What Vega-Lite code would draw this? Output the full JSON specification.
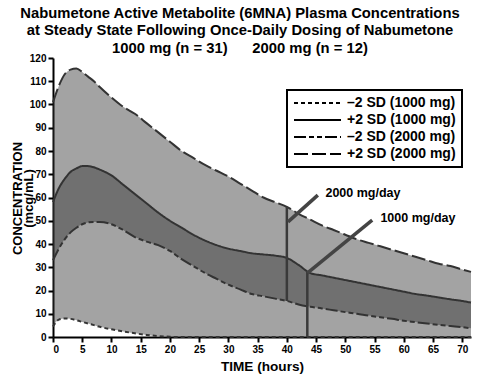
{
  "$schema": "https://vega.github.io/schema/vega-lite/v6.json",
  "width": 418,
  "height": 279,
  "autosize": {"type": "none"},
  "padding": {"left": 53, "top": 58, "right": 9, "bottom": 38},
  "title": {
    "text": [
      "Nabumetone Active Metabolite (6MNA) Plasma Concentrations",
      "at Steady State Following Once-Daily Dosing of Nabumetone",
      "1000 mg (n = 31)\u00a0\u00a0\u00a0\u00a0\u00a0\u00a02000 mg (n = 12)"
    ],
    "font": "Liberation Sans",
    "fontSize": 14.8,
    "fontWeight": "bold",
    "lineHeight": 17.8,
    "anchor": "middle",
    "dx": -22,
    "offset": -3,
    "color": "black"
  },
  "config": {
    "view": {"stroke": null},
    "axis": {
      "domainColor": "black",
      "domainWidth": 2,
      "tickColor": "black",
      "tickWidth": 2,
      "tickSize": 5,
      "labelFont": "Liberation Sans",
      "labelFontSize": 10,
      "labelFontWeight": "bold",
      "labelColor": "black",
      "labelPadding": 2,
      "labelOverlap": false,
      "titleFont": "Liberation Sans",
      "titleFontWeight": "bold",
      "titleColor": "black",
      "grid": false
    },
    "axisX": {"tickCount": 15, "labelOverlap": false},
    "axisY": {"tickCount": 13, "labelOverlap": false},
    "legend": {"strokeWidth": 2}
  },
  "datasets": {
    "curves": [
      {"t": 0, "hi2000": 101, "hi1000": 58, "lo2000": 33, "lo1000": 4.5},
      {"t": 1, "hi2000": 108, "hi1000": 64, "lo2000": 38, "lo1000": 7.5},
      {"t": 2, "hi2000": 113, "hi1000": 68, "lo2000": 42, "lo1000": 8},
      {"t": 3, "hi2000": 115, "hi1000": 71, "lo2000": 45, "lo1000": 7.8},
      {"t": 4, "hi2000": 115.5, "hi1000": 72.5, "lo2000": 47, "lo1000": 7.2},
      {"t": 5, "hi2000": 114, "hi1000": 73.5, "lo2000": 48.5, "lo1000": 6.5},
      {"t": 6, "hi2000": 112, "hi1000": 73.5, "lo2000": 49.3, "lo1000": 5.8},
      {"t": 7, "hi2000": 110, "hi1000": 73, "lo2000": 49.5, "lo1000": 5.1},
      {"t": 8, "hi2000": 107.5, "hi1000": 72, "lo2000": 49.5, "lo1000": 4.4},
      {"t": 10, "hi2000": 103, "hi1000": 69.5, "lo2000": 48.5, "lo1000": 3.3},
      {"t": 12, "hi2000": 99, "hi1000": 65.5, "lo2000": 46, "lo1000": 2.4},
      {"t": 14, "hi2000": 96, "hi1000": 61.5, "lo2000": 43, "lo1000": 1.6},
      {"t": 16, "hi2000": 92, "hi1000": 57.5, "lo2000": 41, "lo1000": 0.9},
      {"t": 18, "hi2000": 88, "hi1000": 53.5, "lo2000": 39.5, "lo1000": 0.4},
      {"t": 20, "hi2000": 84, "hi1000": 50, "lo2000": 37, "lo1000": 0.1},
      {"t": 22, "hi2000": 80, "hi1000": 47, "lo2000": 33.5, "lo1000": 0},
      {"t": 24, "hi2000": 77, "hi1000": 44, "lo2000": 30.5, "lo1000": 0},
      {"t": 26, "hi2000": 74, "hi1000": 41.5, "lo2000": 27.5, "lo1000": 0},
      {"t": 28, "hi2000": 71.5, "hi1000": 39.5, "lo2000": 25, "lo1000": 0},
      {"t": 30, "hi2000": 69, "hi1000": 38, "lo2000": 22.5, "lo1000": 0},
      {"t": 32, "hi2000": 66, "hi1000": 37, "lo2000": 20.5, "lo1000": 0},
      {"t": 34, "hi2000": 63, "hi1000": 36, "lo2000": 18.5, "lo1000": 0},
      {"t": 36, "hi2000": 60, "hi1000": 35.5, "lo2000": 17.5, "lo1000": 0},
      {"t": 38, "hi2000": 58, "hi1000": 35, "lo2000": 16.5, "lo1000": 0},
      {"t": 40, "hi2000": 56, "hi1000": 34, "lo2000": 15.5, "lo1000": 0},
      {"t": 42, "hi2000": 53, "hi1000": 31, "lo2000": 14, "lo1000": 0},
      {"t": 44, "hi2000": 50.5, "hi1000": 27.5, "lo2000": 13, "lo1000": 0},
      {"t": 46, "hi2000": 48, "hi1000": 26.5, "lo2000": 12.3, "lo1000": 0},
      {"t": 48, "hi2000": 46, "hi1000": 25.5, "lo2000": 11.5, "lo1000": 0},
      {"t": 50, "hi2000": 44, "hi1000": 24.5, "lo2000": 10.7, "lo1000": 0},
      {"t": 52, "hi2000": 42, "hi1000": 23.5, "lo2000": 10, "lo1000": 0},
      {"t": 54, "hi2000": 40.5, "hi1000": 22.5, "lo2000": 9.2, "lo1000": 0},
      {"t": 56, "hi2000": 39, "hi1000": 21.5, "lo2000": 8.5, "lo1000": 0},
      {"t": 58, "hi2000": 37.5, "hi1000": 20.5, "lo2000": 7.8, "lo1000": 0},
      {"t": 60, "hi2000": 36, "hi1000": 19.5, "lo2000": 7, "lo1000": 0},
      {"t": 62, "hi2000": 34.5, "hi1000": 18.5, "lo2000": 6.4, "lo1000": 0},
      {"t": 64, "hi2000": 33, "hi1000": 17.8, "lo2000": 5.8, "lo1000": 0},
      {"t": 66, "hi2000": 31.5, "hi1000": 17, "lo2000": 5.2, "lo1000": 0},
      {"t": 68, "hi2000": 30.5, "hi1000": 16.2, "lo2000": 4.7, "lo1000": 0},
      {"t": 70, "hi2000": 29, "hi1000": 15.5, "lo2000": 4.2, "lo1000": 0},
      {"t": 71.5, "hi2000": 28, "hi1000": 14.8, "lo2000": 3.8, "lo1000": 0}
    ],
    "verticals": [
      {"dose": "2000 mg/day", "x1": 40, "x2": 40, "y1": 15.5, "y2": 56},
      {"dose": "1000 mg/day", "x1": 43.5, "x2": 43.5, "y1": 0, "y2": 28}
    ],
    "pointers": [
      {"dose": "2000 mg/day", "x1": 45.3, "x2": 40.2, "y1": 61, "y2": 49.5},
      {"dose": "1000 mg/day", "x1": 54.6, "x2": 43.5, "y1": 50.3, "y2": 27.5}
    ],
    "labels": [
      {"dose": "2000 mg/day", "t": 46.6, "v": 62},
      {"dose": "1000 mg/day", "t": 56, "v": 51}
    ]
  },
  "layer": [
    {
      "data": {"name": "curves"},
      "mark": {"type": "area", "fill": "#333333", "fillOpacity": 0.45, "interpolate": "monotone"},
      "encoding": {
        "x": {
          "field": "t", "type": "quantitative",
          "scale": {"domain": [0, 71.5], "nice": false, "zero": false},
          "axis": {"values": [0, 5, 10, 15, 20, 25, 30, 35, 40, 45, 50, 55, 60, 65, 70], "tickCount": 15, "labelOverlap": false, "titleFontSize": 13.6, "titlePadding": 5},
          "title": "TIME (hours)"
        },
        "y": {
          "field": "lo2000", "type": "quantitative",
          "scale": {"domain": [0, 120], "nice": false},
          "axis": {"values": [0, 10, 20, 30, 40, 50, 60, 70, 80, 90, 100, 110, 120], "tickCount": 13, "labelOverlap": false, "titleFontSize": 13, "titleLineHeight": 11, "titleBaseline": "alphabetic", "titleX": -32, "titleY": 140, "titleAngle": -90, "titleAlign": "center"},
          "title": ["CONCENTRATION", "(mcg/mL)"]
        },
        "y2": {"field": "hi2000"}
      }
    },
    {
      "data": {"name": "curves"},
      "mark": {"type": "area", "fill": "#333333", "fillOpacity": 0.45, "interpolate": "monotone"},
      "encoding": {
        "x": {"field": "t", "type": "quantitative", "title": "TIME (hours)"},
        "y": {"field": "lo1000", "type": "quantitative", "title": ["CONCENTRATION", "(mcg/mL)"]},
        "y2": {"field": "hi1000"}
      }
    },
    {
      "data": {"name": "curves"},
      "transform": [{"fold": ["lo1000", "hi1000", "lo2000", "hi2000"], "as": ["series", "v"]}],
      "mark": {"type": "line", "color": "#333333", "strokeWidth": 2, "interpolate": "monotone"},
      "encoding": {
        "x": {"field": "t", "type": "quantitative", "title": "TIME (hours)"},
        "y": {"field": "v", "type": "quantitative", "title": ["CONCENTRATION", "(mcg/mL)"]},
        "strokeDash": {
          "field": "series", "type": "nominal",
          "scale": {"domain": ["lo1000", "hi1000", "lo2000", "hi2000"], "range": [[4, 3], [1, 0], [12, 3, 5, 3, 5, 3], [14, 4]]},
          "legend": {
            "title": null,
            "orient": "none",
            "legendX": 234,
            "legendY": 32,
            "fillColor": "white",
            "strokeColor": "black",
            "padding": 6,
            "rowPadding": 3,
            "clipHeight": 14,
            "symbolType": "stroke",
            "symbolSize": 2209,
            "symbolStrokeWidth": 2,
            "symbolStrokeColor": "black",
            "labelOffset": 5,
            "labelFont": "Liberation Sans",
            "labelFontSize": 14,
            "labelFontWeight": "bold",
            "labelColor": "black",
            "labelExpr": "datum.label == 'lo1000' ? '\u20132 SD (1000 mg)' : datum.label == 'hi1000' ? '+2 SD (1000 mg)' : datum.label == 'lo2000' ? '\u20132 SD (2000 mg)' : '+2 SD (2000 mg)'"
          }
        }
      }
    },
    {
      "data": {"name": "verticals"},
      "mark": {"type": "rule", "color": "#3a3a3a", "strokeWidth": 2.5},
      "encoding": {
        "x": {"field": "x1", "type": "quantitative", "title": "TIME (hours)"},
        "x2": {"field": "x2"},
        "y": {"field": "y1", "type": "quantitative", "title": ["CONCENTRATION", "(mcg/mL)"]},
        "y2": {"field": "y2"}
      }
    },
    {
      "data": {"name": "pointers"},
      "mark": {"type": "rule", "color": "#444444", "strokeWidth": 3.5},
      "encoding": {
        "x": {"field": "x1", "type": "quantitative", "title": "TIME (hours)"},
        "x2": {"field": "x2"},
        "y": {"field": "y1", "type": "quantitative", "title": ["CONCENTRATION", "(mcg/mL)"]},
        "y2": {"field": "y2"}
      }
    },
    {
      "data": {"name": "labels"},
      "mark": {"type": "text", "align": "left", "baseline": "middle", "font": "Liberation Sans", "fontSize": 12.5, "fontWeight": "bold", "color": "black"},
      "encoding": {
        "x": {"field": "t", "type": "quantitative", "title": "TIME (hours)"},
        "y": {"field": "v", "type": "quantitative", "title": ["CONCENTRATION", "(mcg/mL)"]},
        "text": {"field": "dose"}
      }
    }
  ]
}
